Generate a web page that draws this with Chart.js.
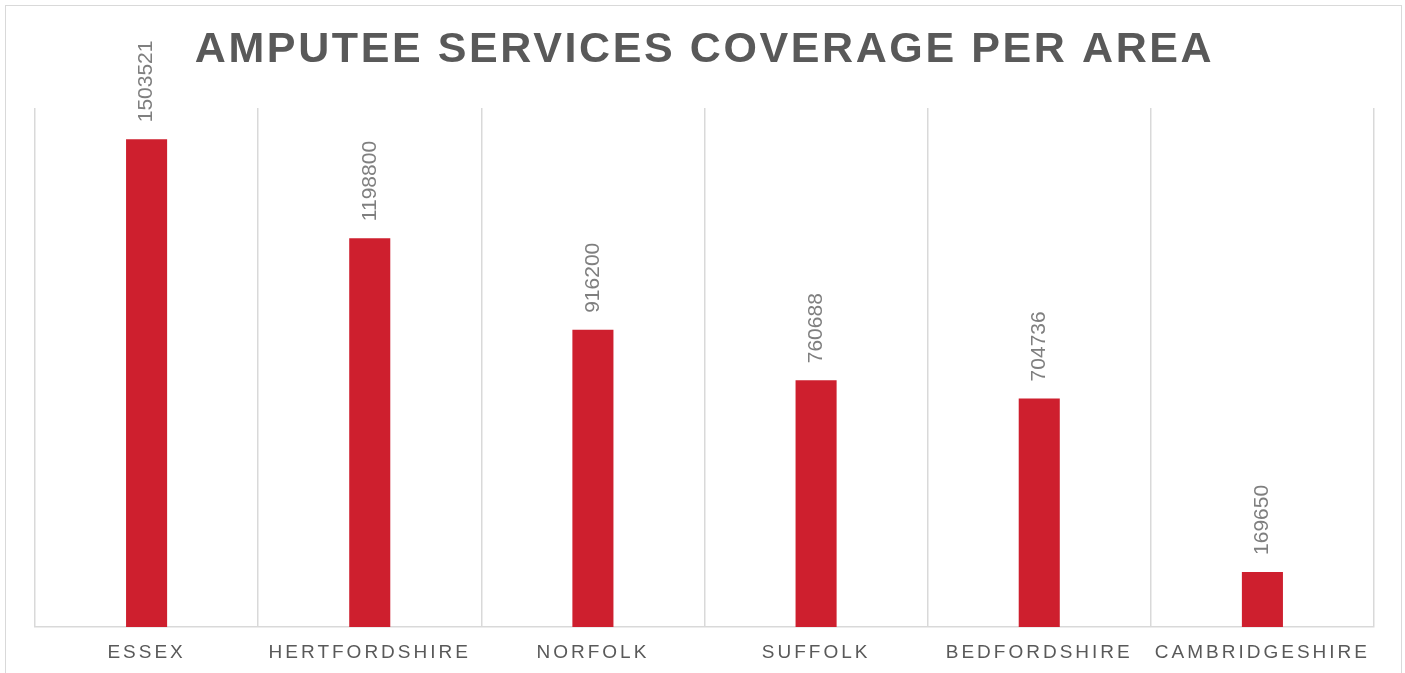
<!DOCTYPE html>
<html>
<head>
<meta charset="utf-8">
<script src="https://cdn.jsdelivr.net/npm/chart.js@4"></script>
<style>
  html, body { margin: 0; padding: 0; background: #ffffff; overflow: hidden; }
  #frame { position: absolute; left: 5px; top: 5px; width: 1395px; height: 720px; border: 1.5px solid #d9d9d9; }
  #c { position: absolute; left: 0; top: 0; }
</style>
</head>
<body>
<div id="frame"></div>
<canvas id="c" width="1405" height="673"></canvas>
<script>
const titleText = 'AMPUTEE SERVICES COVERAGE PER AREA';
const categories = ['ESSEX', 'HERTFORDSHIRE', 'NORFOLK', 'SUFFOLK', 'BEDFORDSHIRE', 'CAMBRIDGESHIRE'];
const coverage = [1503521, 1198800, 916200, 760688, 704736, 169650];
const yMax = 1600000;

const spacingPlugin = {
  id: 'spacing',
  beforeDraw(chart) {
    chart.ctx.letterSpacing = '2.6px';
  },
  afterDatasetsDraw(chart) {
    const ctx = chart.ctx;
    ctx.save();
    ctx.letterSpacing = '0px';
    ctx.font = '21px "Liberation Sans", Arial, sans-serif';
    ctx.fillStyle = '#7f7f7f';
    ctx.textAlign = 'left';
    ctx.textBaseline = 'middle';
    const meta = chart.getDatasetMeta(0);
    meta.data.forEach((bar, i) => {
      ctx.save();
      ctx.translate(bar.x, bar.y - 17);
      ctx.rotate(-Math.PI / 2);
      ctx.fillText(String(chart.data.datasets[0].data[i]), 0, 0);
      ctx.restore();
    });
    ctx.restore();
    ctx.letterSpacing = '3px';
  },
  afterDraw(chart) {
    chart.ctx.letterSpacing = '0px';
  }
};

new Chart(document.getElementById('c'), {
  type: 'bar',
  data: {
    labels: categories,
    datasets: [{
      data: coverage,
      backgroundColor: '#CE1F2E',
      borderWidth: 0,
      categoryPercentage: 1,
      barPercentage: 0.184
    }]
  },
  options: {
    responsive: false,
    animation: false,
    layout: { padding: { left: 35, right: 31, top: 0, bottom: 0 } },
    plugins: {
      legend: { display: false },
      tooltip: { enabled: false },
      title: {
        display: true,
        text: titleText,
        color: '#595959',
        font: { family: '"Liberation Sans", Arial, sans-serif', size: 43, weight: 'bold', lineHeight: 1.2 },
        padding: { top: 24.7, bottom: 31.7 }
      }
    },
    scales: {
      x: {
        offset: true,
        grid: { display: true, offset: true, color: '#d9d9d9', lineWidth: 1.5, drawTicks: false },
        border: { display: true, color: '#d9d9d9', width: 1.5 },
        ticks: {
          z: 1,
          color: '#595959',
          font: { family: '"Liberation Sans", Arial, sans-serif', size: 19 },
          padding: 14,
          maxRotation: 0,
          autoSkip: false
        },
        afterFit(scale) { scale.height = 46; }
      },
      y: {
        display: false,
        min: 0,
        max: yMax
      }
    }
  },
  plugins: [spacingPlugin]
});
</script>
</body>
</html>
